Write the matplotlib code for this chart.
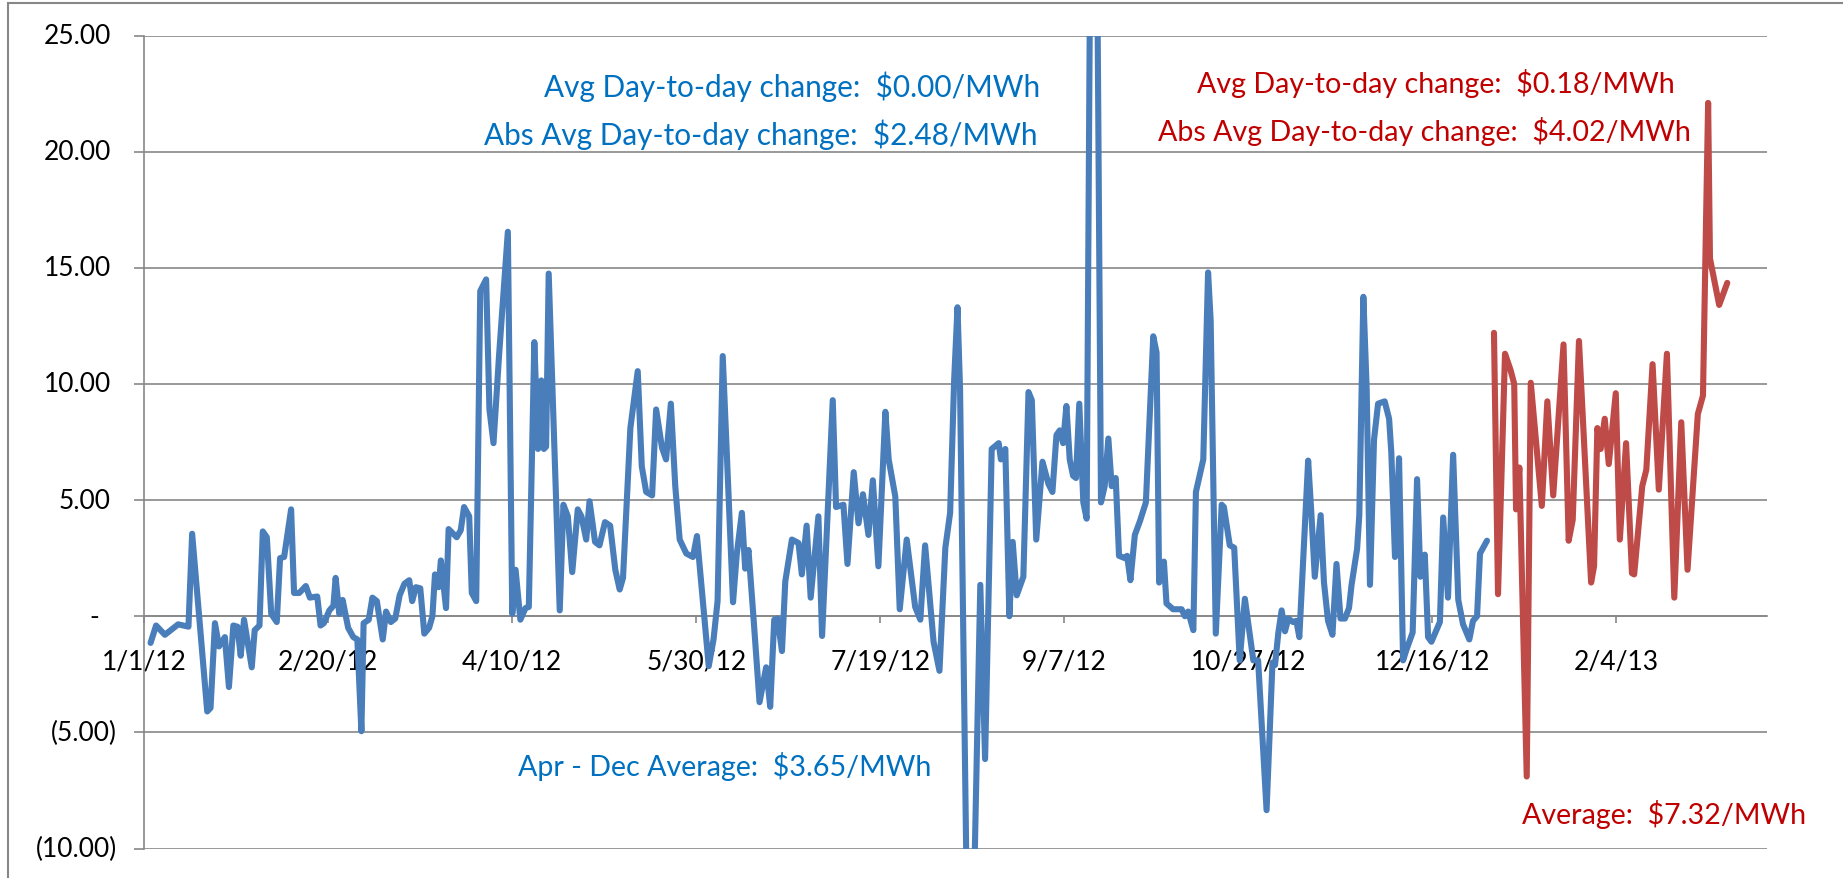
import matplotlib
matplotlib.use("Agg")
import matplotlib.pyplot as plt
import matplotlib.transforms as mtransforms
from matplotlib.patches import Rectangle

plt.rcParams['font.family'] = ['Lato', 'DejaVu Sans']

# day offsets from 1/1/12 and values ($/MWh)
blue_days = [1.7, 3.2, 5.6, 9.2, 12, 13, 17.1, 18, 19.2, 20.3, 21.9, 23, 24.2, 25.3, 26.2, 27.1,
             29.2, 30, 31.3, 32.2, 33.3, 34.5, 36, 36.9, 38, 39.9, 40.7, 42.1, 43.9, 45, 47, 47.9,
             48.8, 50.3, 51.4, 52, 53, 53.9, 55.4, 56.8, 57.9,
             59, 59.6, 61, 62, 63.2, 64.8, 65.7, 67, 68.2, 69.4, 70.7, 72, 72.8, 73.8, 75, 76.1,
             77.4, 78.3, 79, 80, 80.6, 82, 82.7, 84.9, 86, 86.9, 88.3, 89, 90.2, 91.3, 92.9, 93.8,
             94.9, 96.4, 98.8, 100, 100.9, 102.2, 103.6, 104.5, 106, 107, 107.9, 108.6, 109.2,
             109.9, 112.9, 113.9, 115.1, 116.3, 117.8, 118.8, 120.1,
             121, 122.5, 123.7, 125.2, 126.6, 128, 129.2, 130.1, 132.1, 134.1, 135.2, 136.4, 138,
             139.1, 140.7, 141.8, 143.1, 144.3, 145.5, 147.3, 149.1, 150.2, 153.4, 154.7, 155.8,
             157.2, 158.5, 160, 161, 162.4, 163.3, 164.2, 165.6, 167.2, 169, 170.1, 171.2, 172.1,
             173.3, 174.2, 176, 177.8, 178.7, 180, 181.1,
             183.2, 184.2, 187.1, 188, 190, 191.1, 192.8, 194.1, 195.3, 196.8, 198, 199.5, 201.4,
             202.3, 204.1, 205.3, 207.2, 209.5, 210.9, 212.2, 214.5, 216.1, 217.7, 219, 220.1, 221,
             221.7, 223.6, 225.4, 227.2, 228.5, 230.3, 232.2, 232.8, 234, 235.1, 236, 237.1, 238.9,
             240.3, 241.2, 242.4,
             244.1, 245.7, 246.8, 247.9, 248.8, 249.7, 250.6, 251.5, 252.4, 253.2, 254.1, 255.2,
             256.1, 257.2, 258.8, 260, 261, 262, 262.9, 264, 264.9, 266.5, 267.1, 268, 269.2, 270.6,
             272.2, 274.2, 275.1, 275.8, 277.1, 277.8, 279.6, 281.9, 282.8, 283.7, 285.1, 285.8,
             287.8, 289.1, 289.8, 291.2, 292.8, 293.4, 295, 296.2, 297.7, 299.1, 301.4, 302.7, 305,
             306.6, 307.3, 308.2, 309.1, 310, 310.9, 312.2, 313.1, 313.9, 316.3, 317.2, 318.1,
             319.7, 320.6, 321.7, 322.9, 324, 325.1, 326.3, 327.4, 328.1, 329.6, 330.2, 331.3,
             332.2, 333.1, 334.2, 335.3, 337.1, 338.3, 338.9, 339.9, 341, 342.1, 343, 344.7, 345.9,
             346.8, 348, 348.9, 349.8, 352.1, 353, 354.3, 355.7, 357.1, 358.4, 360.1, 361.1, 362.2,
             363, 364.9]
blue_vals = [-1.15, -0.4, -0.8, -0.35, -0.45, 3.55, -4.1, -3.95, -0.3, -1.3, -0.9, -3.05, -0.4,
             -0.45, -1.7, -0.15, -2.2, -0.6, -0.4, 3.65, 3.4, 0.1, -0.25, 2.5, 2.55, 4.6, 1.0, 1.0,
             1.3, 0.8, 0.85, -0.4, -0.3, 0.25, 0.45, 1.65, 0.1, 0.7, -0.5, -0.9, -1.0,
             -4.95, -0.3, -0.15, 0.8, 0.65, -1.0, 0.2, -0.25, -0.1, 0.9, 1.4, 1.55, 0.65, 1.25,
             1.2, -0.75, -0.5, 0.0, 1.8, 1.25, 2.4, 0.35, 3.75, 3.4, 3.7, 4.7, 4.3, 1.0, 0.65, 14.0,
             14.5, 8.9, 7.45, 11.2, 16.55, 0.1, 2.0, -0.15, 0.35, 0.4, 11.8, 7.2, 10.15, 7.2, 7.3,
             14.75, 0.25, 4.8, 4.3, 1.9, 4.6, 4.3, 3.3,
             4.95, 3.2, 3.05, 4.05, 3.9, 2.0, 1.15, 1.65, 8.1, 10.55, 6.45, 5.35, 5.2, 8.9, 7.25,
             6.75, 9.15, 5.6, 3.3, 2.7, 2.55, 3.45, -2.15, -1.0, 0.65, 11.2, 6.25, 0.6, 2.65, 4.45,
             2.05, 2.85, -0.15, -3.7, -2.2, -3.9, -0.15, -0.1, -1.5, 1.5, 3.3, 3.15, 1.8, 3.9, 0.8,
             4.3, -0.85, 9.3, 4.7, 4.8, 2.25, 6.2, 4.0, 5.25, 3.5, 5.85, 2.15, 8.8, 6.75, 5.15, 0.3,
             3.3, 0.4, -0.15, 3.05, -1.1, -2.35, 2.95, 4.45, 10.2, 13.3, 9.75, -13.0, -12.5, 1.35,
             -6.15, 7.2, 7.45, 6.75, 7.2, 0.0, 3.2, 0.9, 1.7, 9.65, 9.3, 3.3,
             6.65, 5.7, 5.35, 7.8, 8.0, 7.45, 9.05, 6.75, 6.05, 5.95, 9.15, 4.9, 4.2, 32.0, 32.0,
             4.9, 5.6, 7.65, 5.6, 5.95, 2.6, 2.5, 2.6, 1.55, 3.5, 4.1, 4.9, 12.05, 11.35, 1.45, 2.35,
             0.55, 0.3, 0.3, 0.0, 0.2, -0.6, 5.35, 6.75, 14.8, 12.75, -0.75, 4.8, 4.7, 3.05, 2.95,
             -1.9, 0.75, -1.9, -1.9, -8.35,
             -2.0, -2.1, -0.7, 0.25, -0.65, -0.1, -0.25, -0.2, -0.9, 6.7, 4.35, 1.7, 4.35, 1.45,
             -0.2, -0.8, 2.25, -0.1, -0.1, 0.35, 1.35, 2.9, 4.35, 13.75, 9.8, 1.35, 7.6, 9.15, 9.25,
             8.5, 7.05, 2.55, 6.8, -1.9, -1.45, -0.7, 5.9, 1.7, 2.65, -0.9, -1.1, -0.25, 4.25, 0.8,
             6.95, 0.7, -0.35, -1.0, -0.2, 0.0, 2.7, 3.25]

red_days = [366.8, 367.9, 369.8, 371.3, 372.3, 372.8, 373.7, 375.7, 376.8, 379.8, 381.3, 382.9,
            385.7, 387.1, 388.2, 389.9, 393.2, 394, 394.9, 395.8, 396.9, 398, 399.9, 401, 402.7,
            404.3, 404.9, 407.1, 408.2, 409.9, 411.6, 413.8, 415.8, 417.7, 419.4, 422.2, 423.6,
            425, 425.5, 428, 430.2]
red_vals = [12.2, 0.95, 11.3, 10.6, 10.0, 4.6, 6.4, -6.9, 10.05, 4.75, 9.25, 5.2, 11.7, 3.25,
            4.15, 11.85, 1.45, 2.15, 8.1, 7.2, 8.5, 6.55, 9.6, 3.3, 7.45, 1.85, 1.8, 5.6, 6.3,
            10.85, 5.45, 11.3, 0.8, 8.35, 2.0, 8.7, 9.5, 22.1, 15.4, 13.4, 14.35]

tick_days = [0, 50, 100, 150, 200, 250, 300, 350, 400]
tick_labels = ['1/1/12', '2/20/12', '4/10/12', '5/30/12', '7/19/12', '9/7/12', '10/27/12',
               '12/16/12', '2/4/13']
y_ticks = [25, 20, 15, 10, 5, 0, -5, -10]
y_labels = ['25.00', '20.00', '15.00', '10.00', '5.00', '-', '(5.00)', '(10.00)']

W, H = 1843, 879
fig = plt.figure(figsize=(W / 100, H / 100), dpi=100)
ax = fig.add_axes([144.3 / W, 1 - 849.5 / H, (1767 - 144.3) / W, (849.5 - 36.5) / H])

grid_c = '#878787'
ax.plot(blue_days, blue_vals, color='#4A7EBB', lw=4.4, solid_joinstyle='round',
        solid_capstyle='round', zorder=3)
ax.plot(red_days, red_vals, color='#BE4B48', lw=4.4, solid_joinstyle='round',
        solid_capstyle='round', zorder=3)

ax.set_xlim(0, 441)
ax.set_ylim(-10, 25)
ax.set_yticks(y_ticks)
ax.set_yticklabels([])
ax.yaxis.grid(True, color=grid_c, lw=1.2)
ax.set_axisbelow(True)
ax.tick_params(axis='y', length=7, width=1.2, color=grid_c, direction='out')

ax.spines['top'].set_visible(False)
ax.spines['right'].set_visible(False)
ax.spines['left'].set_color(grid_c)
ax.spines['left'].set_linewidth(1.2)
ax.spines['bottom'].set_position(('data', 0))
ax.spines['bottom'].set_color(grid_c)
ax.spines['bottom'].set_linewidth(1.2)

ax.set_xticks(tick_days)
ax.set_xticklabels(tick_labels, fontsize=19)
ax.tick_params(axis='x', length=5, width=1.2, color=grid_c, direction='out', pad=18)

# y labels in accounting style: positives leave room for ")"
tr = mtransforms.blended_transform_factory(fig.transFigure, ax.transData)
for v, lab in zip(y_ticks, y_labels):
    if v > 0:
        ax.text(111 / W, v, lab, transform=tr, ha='right', va='center', fontsize=19)
    elif v < 0:
        ax.text(117 / W, v, lab, transform=tr, ha='right', va='center', fontsize=19)
    else:
        ax.text(94 / W, v, lab, transform=tr, ha='center', va='center', fontsize=19)

blue_t = '#0070C0'
red_t = '#C00000'
fs = 20.6
fs_top = 21.4
fig.text(544 / W, 1 - 87 / H, 'Avg Day-to-day change:  $0.00/MWh', color=blue_t, fontsize=fs_top, va='center')
fig.text(484 / W, 1 - 135 / H, 'Abs Avg Day-to-day change:  $2.48/MWh', color=blue_t, fontsize=fs_top, va='center')
fig.text(518 / W, 1 - 767 / H, 'Apr - Dec Average:  $3.65/MWh', color=blue_t, fontsize=fs, va='center')
fig.text(1197 / W, 1 - 83 / H, 'Avg Day-to-day change:  $0.18/MWh', color=red_t, fontsize=fs, va='center')
fig.text(1158 / W, 1 - 132 / H, 'Abs Avg Day-to-day change:  $4.02/MWh', color=red_t, fontsize=fs, va='center')
fig.text(1522 / W, 1 - 815 / H, 'Average:  $7.32/MWh', color=red_t, fontsize=fs, va='center')

# chart area border
fig.add_artist(Rectangle((8 / W, -0.1), 1.2, 1.1 - 4 / H, transform=fig.transFigure,
                         fill=False, edgecolor=grid_c, lw=1.5))

fig.savefig('out.png', dpi=100)
